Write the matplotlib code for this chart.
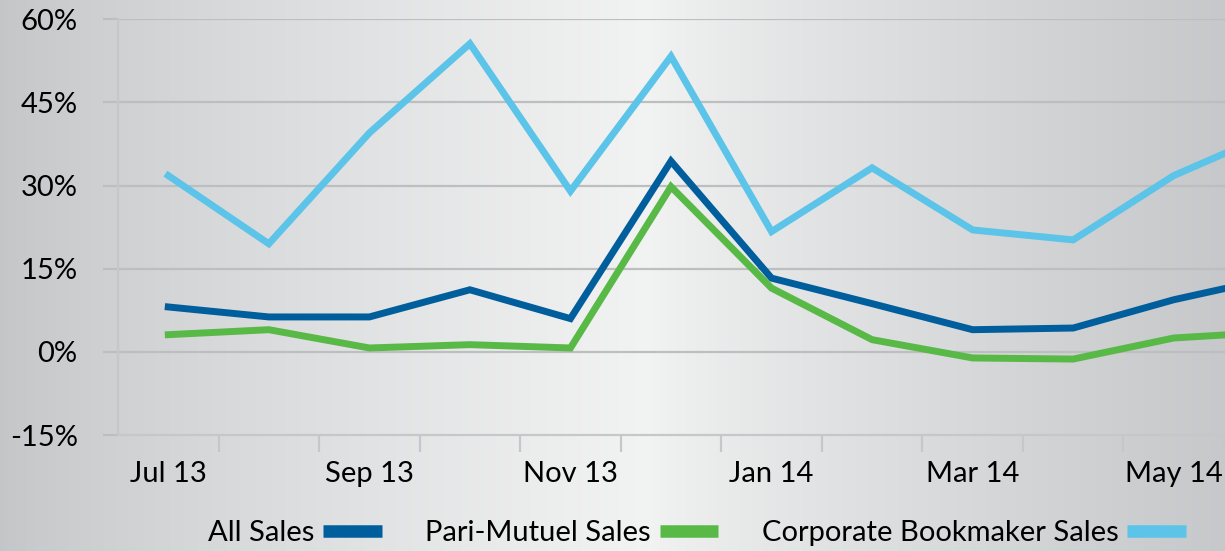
import numpy as np
import matplotlib
matplotlib.use("Agg")
import matplotlib.pyplot as plt
from matplotlib.lines import Line2D

months = ["Jul 13", "Aug 13", "Sep 13", "Oct 13", "Nov 13", "Dec 13",
          "Jan 14", "Feb 14", "Mar 14", "Apr 14", "May 14", "Jun 14"]
all_sales = [8.1, 6.3, 6.3, 11.2, 6.0, 34.4, 13.3, 8.7, 4.0, 4.3, 9.4, 13.4]
pari_mutuel = [3.1, 4.0, 0.7, 1.3, 0.7, 29.8, 11.5, 2.2, -1.1, -1.3, 2.5, 3.6]
corporate = [31.8, 19.5, 39.5, 55.6, 29.0, 53.3, 21.7, 33.2, 22.0, 20.2, 31.8, 39.7]
series_names = ["All Sales", "Pari-Mutuel Sales", "Corporate Bookmaker Sales"]
colors = ["#005e9c", "#58b947", "#5bc4e8"]
yticks = [-15, 0, 15, 30, 45, 60]

plt.rcParams["font.family"] = ["Lato", "DejaVu Sans"]

W, H = 1225, 551
fig = plt.figure(figsize=(W / 100, H / 100), dpi=100)

# background gradient, darker at the sides
bg = fig.add_axes([0, 0, 1, 1], zorder=-10)
xs = np.linspace(0, 1, 600)
left, mid, right = np.array([0.77, 0.775, 0.785]), np.array([0.95, 0.952, 0.952]), np.array([0.78, 0.785, 0.795])
t = np.clip(xs / 0.53, 0, 1)[:, None]
u = np.clip((xs - 0.53) / 0.47, 0, 1)[:, None]
grad = np.where(xs[:, None] < 0.53, left + (mid - left) * t ** 0.8, mid + (right - mid) * u ** 0.8)
bg.imshow(grad[None, :, :], aspect="auto", extent=[0, 1, 0, 1])
bg.axis("off")

ax = fig.add_axes([118 / W, 1 - 435 / H, 1 - 118 / W, (435 - 19.3) / H])
ax.patch.set_alpha(0)
x = np.arange(len(months))
ax.plot(x, all_sales, color=colors[0], lw=5, solid_joinstyle="miter", zorder=3)
ax.plot(x, pari_mutuel, color=colors[1], lw=5, solid_joinstyle="miter", zorder=3)
ax.plot(x, corporate, color=colors[2], lw=5, solid_joinstyle="miter", zorder=3)

ax.set_xlim(-0.5, 10.51)
ax.set_ylim(-15, 60)
grid_c = "#bdbebf"
ax.set_yticks(yticks)
ax.set_yticklabels([f"{v}%" for v in yticks])
for v in yticks[1:]:
    ax.axhline(v, color=grid_c, lw=1.6, zorder=1)
ax.tick_params(axis="y", length=11, width=1.6, color=grid_c, pad=18, labelsize=21)

ax.set_xticks(x[::2])
ax.set_xticklabels(months[::2])
ax.set_xticks(np.arange(0.5, 11, 1), minor=True)
ax.tick_params(axis="x", which="major", length=0, pad=19, labelsize=21)
ax.tick_params(axis="x", which="minor", length=12, width=1.6, color="#c6c7c8")

for s in ["top", "right"]:
    ax.spines[s].set_visible(False)
for s in ["left", "bottom"]:
    ax.spines[s].set_color("#c6c7c8")
    ax.spines[s].set_linewidth(1.6)

handles = [Line2D([], [], color=c, lw=9, solid_capstyle="butt") for c in colors]
fig.legend(handles, series_names, loc="center", bbox_to_anchor=(0.569, 0.032),
           ncol=3, frameon=False, markerfirst=False, fontsize=21,
           handlelength=2.0, handletextpad=0.3, columnspacing=1.5)

fig.savefig("out.png", dpi=100)
